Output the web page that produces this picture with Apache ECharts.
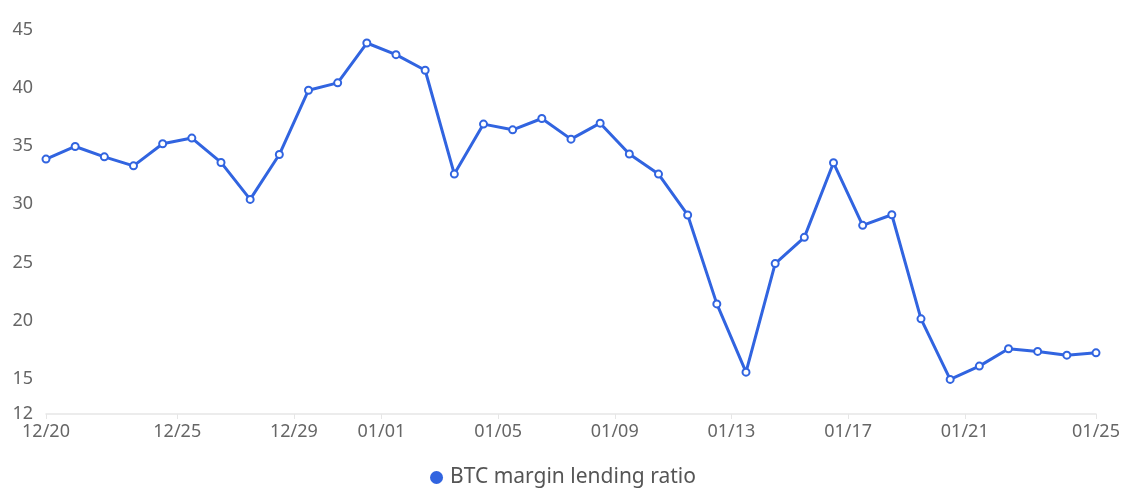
<!DOCTYPE html>
<html>
<head>
<meta charset="utf-8">
<script src="https://cdn.jsdelivr.net/npm/echarts@6/dist/echarts.min.js"></script>
<style>
html,body{margin:0;padding:0;background:#fff;}
#c{width:1126px;height:502px;}
</style>
</head>
<body>
<div id="c"></div>
<script>
// dates (one reading per day, around midday)
var dates = [
  '2024-12-20','2024-12-21','2024-12-22','2024-12-23','2024-12-24','2024-12-25','2024-12-26',
  '2024-12-27','2024-12-28','2024-12-29','2024-12-30','2024-12-31','2025-01-01','2025-01-02',
  '2025-01-03','2025-01-04','2025-01-05','2025-01-06','2025-01-07','2025-01-08','2025-01-09',
  '2025-01-10','2025-01-11','2025-01-12','2025-01-13','2025-01-14','2025-01-15','2025-01-16',
  '2025-01-17','2025-01-18','2025-01-19','2025-01-20','2025-01-21','2025-01-22','2025-01-23',
  '2025-01-24','2025-01-25'
];
var readingTime = '12:00';
var ratio = [
  33.88, 34.96, 34.07, 33.30, 35.19, 35.68, 33.59, 30.42, 34.27, 39.79,
  40.42, 43.84, 42.84, 41.50, 32.59, 36.88, 36.39, 37.36, 35.59, 36.96,
  34.31, 32.59, 29.08, 21.45, 15.59, 24.91, 27.16, 33.56, 28.19, 29.10,
  20.17, 14.97, 16.11, 17.60, 17.37, 17.05, 17.25
];
var seriesName = 'BTC margin lending ratio';
// x-axis tick labels (first and last are the data ends)
var xTickDates = [
  '2024-12-20 12:00','2024-12-25 00:00','2024-12-29 00:00','2025-01-01 00:00','2025-01-05 00:00',
  '2025-01-09 00:00','2025-01-13 00:00','2025-01-17 00:00','2025-01-21 00:00','2025-01-25 12:00'
];
var yMin = 12, yMax = 45;

function toTs(s){
  var p = s.split(/[- :]/).map(Number);
  return new Date(p[0], p[1]-1, p[2], p[3]||0, p[4]||0).getTime();
}
var data = dates.map(function(d,i){ return [toTs(d+' '+readingTime), ratio[i]]; });
var tickVals = xTickDates.map(toTs);
function pad(n){ return (n<10?'0':'')+n; }
function fmt(v){ var d=new Date(v); return pad(d.getMonth()+1)+'/'+pad(d.getDate()); }

var chart = echarts.init(document.getElementById('c'));
var font = 'Noto Sans';
chart.setOption({
  animation:false,
  color:['#3164E0'],
  textStyle:{fontFamily:font},
  grid:{left:46,right:30,top:29.5,bottom:88,containLabel:false},
  legend:{
    top:462, left:'center', icon:'circle', itemWidth:13, itemHeight:13, itemGap:10,
    textStyle:{fontSize:21,color:'#555',fontFamily:font,padding:[0,0,0,2]},
    data:[seriesName]
  },
  xAxis:{
    type:'value',
    min:tickVals[0], max:tickVals[tickVals.length-1],
    axisLine:{lineStyle:{color:'#e6e6e6',width:1.5}},
    axisTick:{show:true,length:5,lineStyle:{color:'#e6e6e6'},customValues:tickVals},
    axisLabel:{fontSize:18,color:'#666',margin:9,customValues:tickVals,formatter:function(v){return fmt(v);},hideOverlap:false},
    splitLine:{show:false}
  },
  yAxis:{
    type:'value',
    min:yMin, max:yMax, splitNumber:5,
    axisLine:{show:false},
    axisTick:{show:false},
    splitLine:{show:false},
    axisLabel:{fontSize:18,color:'#666',margin:13}
  },
  series:[{
    name:seriesName,
    type:'line',
    data:data,
    symbol:'emptyCircle',
    symbolSize:7,
    showAllSymbol:true,
    lineStyle:{width:3},
    itemStyle:{borderWidth:2.4}
  }]
});
</script>
</body>
</html>
